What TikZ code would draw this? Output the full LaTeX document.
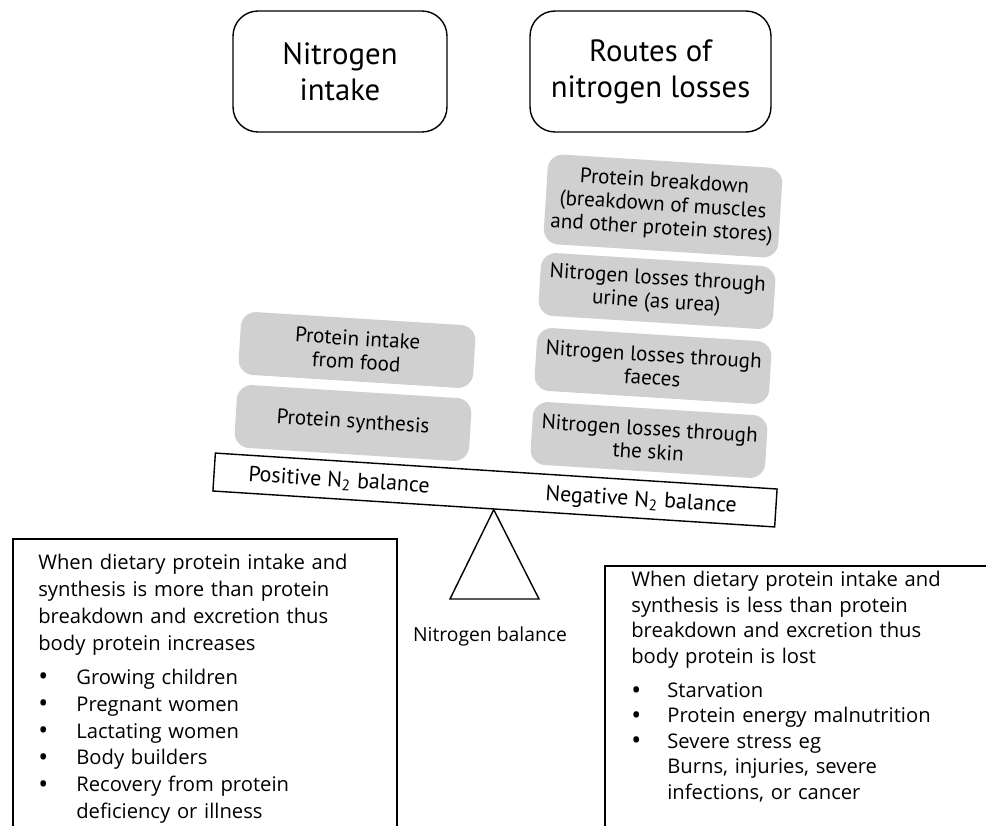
\documentclass[tikz,border=0pt]{standalone}
\usepackage{fontspec}
\setmainfont{PT Sans}
\newfontfamily\listfont{Open Sans}
\usepackage{enumitem}
\definecolor{boxgray}{RGB}{208,208,208}
\newcommand{\bigdot}{\raisebox{-0.15ex}{\fontsize{15}{15}\selectfont\textbullet}}

\begin{document}
\begin{tikzpicture}[x=0.02cm,y=-0.02cm,
  headbox/.style={draw,line width=0.8pt,rounded corners=0.5cm,minimum height=2.42cm,align=center,font=\fontsize{17.5}{20.5}\selectfont},
  graybox/.style={fill=boxgray,rounded corners=0.3cm,minimum width=4.7cm,minimum height=1.26cm,align=center,rotate=-3.6,font=\fontsize{12}{13.3}\selectfont},
  beamlabel/.style={rotate=-3.66,font=\fontsize{12.5}{14}\selectfont},
  listtext/.style={anchor=north west,inner sep=0pt,align=left,font=\listfont\fontsize{11.5}{15.3}\selectfont}]
\useasboundingbox (0,0) rectangle (986,825);
\clip (0,0) rectangle (986,825);

% headings
\node[headbox,minimum width=4.28cm] (intake) at (340,71.5) {Nitrogen\\intake};
\node[headbox,minimum width=4.82cm] (losses) at (650.5,71.5) {Routes of\\nitrogen losses};

% intake side
\node[graybox] (food) at (357,350) {Protein intake\\from food};
\node[graybox] (synth) at (353,423) {Protein synthesis};

% losses side
\node[graybox,minimum height=1.8cm] (breakdown) at (663,206) {Protein breakdown\\(breakdown of muscles\\and other protein stores)};
\node[graybox] (urine) at (657,291) {Nitrogen losses through\\urine (as urea)};
\node[graybox] (faeces) at (653,366) {Nitrogen losses through\\faeces};
\node[graybox] (skin) at (649,440) {Nitrogen losses through\\the skin};

% the scale
\node[draw,fill=white,line width=0.8pt,minimum width=11.26cm,minimum height=0.76cm,rotate=-3.66] (beam) at (495,490) {};
\node[beamlabel] (pos) at (339,481) {Positive N\textsubscript{2} balance};
\node[beamlabel] (neg) at (641,501) {Negative N\textsubscript{2} balance};
\coordinate (baseL) at (450,599);
\coordinate (baseR) at (539,599);
\draw[line width=0.8pt] (beam.south) -- (baseL) -- (baseR) -- cycle;
\node[font=\listfont\fontsize{11}{13}\selectfont] (nbal) at (490,636) {Nitrogen balance};

% outcome boxes
\draw[line width=1.4pt] (13,840) |- (397,539) -- (397,840);
\draw[line width=1.4pt] (605,840) |- (1000,566);

\node[listtext,text width=7.1cm] (posinfo) at (38,554) {When dietary protein intake and\\
synthesis is more than protein\\
breakdown and excretion thus\\
body protein increases
\begin{itemize}[label=\bigdot,leftmargin=0.76cm,labelwidth=0.76cm,labelsep=0pt,align=left,topsep=4pt,itemsep=0pt,parsep=0pt,partopsep=0pt]
\item Growing children
\item Pregnant women
\item Lactating women
\item Body builders
\item Recovery from protein\newline deficiency or illness
\end{itemize}};

\node[listtext,text width=6.9cm,font=\listfont\fontsize{11.5}{14.5}\selectfont] (neginfo) at (631,571) {When dietary protein intake and\\
synthesis is less than protein\\
breakdown and excretion thus\\
body protein is lost
\begin{itemize}[label=\bigdot,leftmargin=0.72cm,labelwidth=0.72cm,labelsep=0pt,align=left,topsep=5pt,itemsep=0pt,parsep=0pt,partopsep=0pt]
\item Starvation
\item Protein energy malnutrition
\item Severe stress eg\newline Burns, injuries, severe\newline infections, or cancer
\end{itemize}};
\end{tikzpicture}
\end{document}
